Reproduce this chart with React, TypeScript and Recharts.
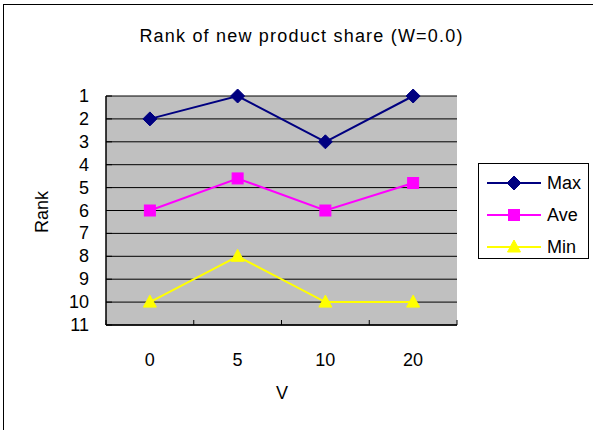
import { LineChart, Line, XAxis, YAxis, CartesianGrid } from "recharts";

const categories = ["0", "5", "10", "20"];
const maxRank = [2, 1, 3, 1];
const aveRank = [6, 4.6, 6, 4.8];
const minRank = [10, 8, 10, 10];
const rankTicks = [1, 2, 3, 4, 5, 6, 7, 8, 9, 10, 11];

const chartData = categories.map((v, i) => ({
  v,
  Max: maxRank[i],
  Ave: aveRank[i],
  Min: minRank[i],
}));

const FONT = "'Liberation Sans', Arial, sans-serif";
const PLOT_LEFT = 106;
const PLOT_RIGHT = 457;
const PLOT_TOP = 96;
const PLOT_BOTTOM = 325;
const HALF_BAND = (PLOT_RIGHT - PLOT_LEFT) / 8;

const SERIES = [
  { key: "Max", color: "#000080", shape: "diamond" },
  { key: "Ave", color: "#FF00FF", shape: "square" },
  { key: "Min", color: "#FFFF00", shape: "triangle" },
];

const Marker = ({ cx, cy, shape, color }: { cx: number; cy: number; shape: string; color: string }) => {
  if (shape === "diamond") {
    return <path d={`M${cx},${cy - 7}L${cx + 7},${cy}L${cx},${cy + 7}L${cx - 7},${cy}Z`} fill={color} stroke={color} />;
  }
  if (shape === "square") {
    return <rect x={cx - 5.5} y={cy - 5.5} width={11} height={11} fill={color} stroke={color} />;
  }
  return <path d={`M${cx},${cy - 7}L${cx + 6.5},${cy + 5}L${cx - 6.5},${cy + 5}Z`} fill={color} stroke={color} />;
};

const makeDot = (shape: string, color: string) => (props: any) => {
  const { cx, cy, index } = props;
  if (cx == null || cy == null) return <g key={index} />;
  return <Marker key={index} cx={cx} cy={cy} shape={shape} color={color} />;
};

const XTick = (props: any) => {
  const { x, payload, index } = props;
  return (
    <g>
      <line x1={x - HALF_BAND} x2={x - HALF_BAND} y1={PLOT_BOTTOM} y2={PLOT_BOTTOM - 5} stroke="#000" />
      {index === categories.length - 1 && (
        <line x1={x + HALF_BAND} x2={x + HALF_BAND} y1={PLOT_BOTTOM} y2={PLOT_BOTTOM - 5} stroke="#000" />
      )}
      <text x={x} y={360} textAnchor="middle" dominantBaseline="central" fontSize={18} fontFamily={FONT} fill="#000">
        {payload.value}
      </text>
    </g>
  );
};

const YTick = (props: any) => {
  const { y, payload } = props;
  return (
    <g>
      <line x1={PLOT_LEFT} x2={PLOT_LEFT + 6} y1={y} y2={y} stroke="#000" />
      <text x={89} y={y} textAnchor="end" dominantBaseline="central" fontSize={18} fontFamily={FONT} fill="#000">
        {payload.value}
      </text>
    </g>
  );
};

const LegendBox = () => (
  <div
    style={{
      position: "absolute",
      left: 478,
      top: 163,
      width: 109,
      height: 94,
      border: "1px solid #000",
      background: "#fff",
    }}
  >
    {SERIES.map((s, i) => (
      <div key={s.key} style={{ position: "absolute", left: 0, top: 4 + i * 32, height: 30, width: 109 }}>
        <svg width={64} height={30} style={{ position: "absolute", left: 6, top: 0 }}>
          <line x1={2} x2={56} y1={15} y2={15} stroke={s.color} strokeWidth={2} />
          <Marker cx={29} cy={15} shape={s.shape} color={s.color} />
        </svg>
        <span
          style={{
            position: "absolute",
            left: 68,
            top: 0,
            lineHeight: "30px",
            fontSize: 18,
            fontFamily: FONT,
            color: "#000",
          }}
        >
          {s.key}
        </span>
      </div>
    ))}
  </div>
);

export default function App() {
  return (
    <div style={{ position: "fixed", left: 0, top: 0, width: 593, height: 430, overflow: "hidden", background: "#fff" }}>
      <div
        style={{
          position: "absolute",
          left: 3,
          top: 4,
          width: 700,
          height: 600,
          border: "1px solid #000",
          boxSizing: "border-box",
        }}
      />
      <div
        style={{
          position: "absolute",
          left: 0,
          width: 603,
          top: 24,
          textAlign: "center",
          fontSize: 18,
          lineHeight: "24px",
          letterSpacing: "1.2px",
          fontFamily: FONT,
        }}
      >
        Rank of new product share (W=0.0)
      </div>
      <div
        style={{
          position: "absolute",
          left: 42,
          top: 212,
          transform: "translate(-50%, -50%) rotate(-90deg)",
          fontSize: 18,
          fontFamily: FONT,
          whiteSpace: "nowrap",
        }}
      >
        Rank
      </div>
      <div
        style={{
          position: "absolute",
          left: 282,
          top: 393,
          transform: "translate(-50%, -50%)",
          fontSize: 18,
          fontFamily: FONT,
        }}
      >
        V
      </div>
      <div style={{ position: "absolute", left: 0, top: 0 }}>
        <LineChart
          width={593}
          height={430}
          data={chartData}
          margin={{ top: PLOT_TOP, right: 593 - PLOT_RIGHT, bottom: 430 - PLOT_BOTTOM - 30, left: 50 }}
        >
          <CartesianGrid vertical={false} fill="#C0C0C0" fillOpacity={1} stroke="#000" strokeWidth={1} />
          <XAxis
            dataKey="v"
            height={30}
            padding={{ left: HALF_BAND, right: HALF_BAND }}
            tickLine={false}
            axisLine={{ stroke: "#000", strokeWidth: 1.5 }}
            tick={<XTick />}
            interval={0}
          />
          <XAxis xAxisId="top" orientation="top" dataKey="v" height={0} tick={false} tickLine={false} axisLine={{ stroke: "#808080", strokeWidth: 2 }} />
          <YAxis
            width={PLOT_LEFT - 50}
            type="number"
            domain={[1, 11]}
            reversed
            ticks={rankTicks}
            interval={0}
            tickLine={false}
            axisLine={{ stroke: "#000", strokeWidth: 1.5 }}
            tick={<YTick />}
          />
          <YAxis yAxisId="right" orientation="right" width={0} tick={false} tickLine={false} axisLine={{ stroke: "#808080", strokeWidth: 2 }} />
          {SERIES.map((s) => (
            <Line
              key={s.key}
              dataKey={s.key}
              stroke={s.color}
              strokeWidth={2}
              dot={makeDot(s.shape, s.color)}
              activeDot={false}
              isAnimationActive={false}
            />
          ))}
        </LineChart>
      </div>
      <LegendBox />
    </div>
  );
}
